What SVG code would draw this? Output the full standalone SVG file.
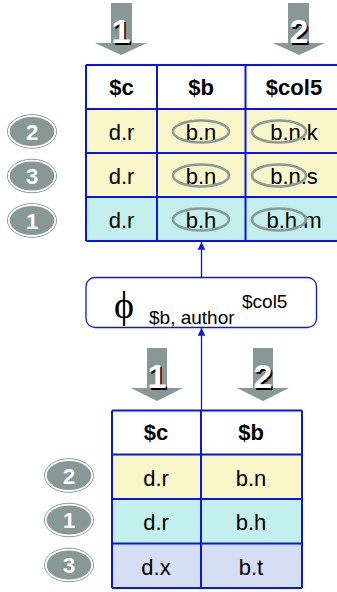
<svg xmlns="http://www.w3.org/2000/svg" width="337" height="592" viewBox="0 0 337 592">
<style>
.grid{fill:none;stroke:#0a14e6;stroke-width:2}
.y{fill:#f9f7c9}.c{fill:#c3f0ec}.l{fill:#d5def3}.w{fill:#ffffff}
.hd{font-family:"Liberation Sans",Arial,sans-serif;font-weight:bold;font-size:22px;text-anchor:middle;fill:#000}
.tx{font-family:"Liberation Sans",Arial,sans-serif;font-size:22px;text-anchor:middle;fill:#000}
.ov{fill:none;stroke:#8a9a98;stroke-width:2.5}
.arr{fill:#879896}
.bn{font-family:"Liberation Sans",Arial,sans-serif;font-weight:bold;font-size:34px;text-anchor:middle}
.badge{fill:#879896;stroke:#ffffff;stroke-width:1.5}
.badgeo{fill:none;stroke:#879896;stroke-width:1}
.bt{font-family:"Liberation Sans",Arial,sans-serif;font-weight:bold;font-size:22px;text-anchor:middle;fill:#ffffff}
.conn{stroke:#0a14e6;stroke-width:1.3;fill:none}
.ph{font-family:"Liberation Sans",Arial,sans-serif;font-size:19px;fill:#000}
</style>
<defs>
<marker id="ah" viewBox="0 0 10 10" refX="10" refY="5" markerWidth="6" markerHeight="6" orient="auto">
<path d="M0,0 L10,5 L0,10 Z" fill="#0a14e6"/>
</marker>
</defs>

<g id="top-arrows">
<path class="arr" d="M111,3 H132 V43 H147 L121,55 L95,43 H111 Z"/>
<text class="bn" x="122.5" y="44.5" fill="#000">1</text>
<text class="bn" x="121" y="43" fill="#fff">1</text>
<path class="arr" d="M288,3 H309 V43 H325 L299,55 L273,43 H288 Z"/>
<text class="bn" x="300.5" y="44.5" fill="#000">2</text>
<text class="bn" x="299" y="43" fill="#fff">2</text>
</g>

<g id="top-table">
<rect class="w" x="86" y="65" width="254" height="44"/>
<rect class="y" x="86" y="109" width="254" height="88"/>
<rect class="c" x="86" y="197" width="254" height="44"/>
<path class="grid" d="M86,65 H340 M86,109 H340 M86,153 H340 M86,197 H340 M86,241 H340 M86,65 V241 M157,65 V241 M245.5,65 V241"/>
<text class="hd" x="121.5" y="95">$c</text>
<text class="hd" x="201" y="95">$b</text>
<text class="hd" x="294" y="95">$col5</text>
<text class="tx" x="121.5" y="139.5">d.r</text>
<text class="tx" x="201" y="139.5">b.n</text>
<text class="tx" x="294" y="139.5">b.n.k</text>
<text class="tx" x="121.5" y="183.5">d.r</text>
<text class="tx" x="201" y="183.5">b.n</text>
<text class="tx" x="294" y="183.5">b.n.s</text>
<text class="tx" x="121.5" y="227.5">d.r</text>
<text class="tx" x="201" y="227.5">b.h</text>
<text class="tx" x="294" y="227.5">b.h.m</text>
<ellipse class="ov" cx="201" cy="131.5" rx="28" ry="11"/>
<ellipse class="ov" cx="279" cy="131.5" rx="27" ry="11"/>
<ellipse class="ov" cx="201" cy="175.5" rx="28" ry="11"/>
<ellipse class="ov" cx="279" cy="175.5" rx="27" ry="11"/>
<ellipse class="ov" cx="201" cy="219.5" rx="28" ry="11"/>
<ellipse class="ov" cx="279" cy="219.5" rx="27" ry="11"/>
</g>

<g id="top-badges">
<ellipse class="badgeo" cx="32" cy="131.5" rx="24.5" ry="16.8"/>
<ellipse class="badge" cx="32" cy="131.5" rx="23" ry="15.3"/>
<text class="bt" x="32" y="139.5">2</text>
<ellipse class="badgeo" cx="32" cy="176" rx="24.5" ry="16.8"/>
<ellipse class="badge" cx="32" cy="176" rx="23" ry="15.3"/>
<text class="bt" x="32" y="184">3</text>
<ellipse class="badgeo" cx="32" cy="220.5" rx="24.5" ry="16.8"/>
<ellipse class="badge" cx="32" cy="220.5" rx="23" ry="15.3"/>
<text class="bt" x="32" y="228.5">1</text>
</g>

<g id="connectors">
<line class="conn" x1="201.5" y1="277" x2="201.5" y2="242" marker-end="url(#ah)"/>
<line class="conn" x1="201.5" y1="410" x2="201.5" y2="328" marker-end="url(#ah)"/>
</g>

<g id="phi-node">
<rect x="86" y="277.5" width="230.5" height="50" rx="9" fill="#fff" stroke="#0a14e6" stroke-width="1.3"/>
<text x="124" y="318" font-family="'Liberation Serif','Times New Roman',serif" font-size="38" text-anchor="middle">ϕ</text>
<text class="ph" x="149" y="323.5">$b, author</text>
<text class="ph" x="242" y="308">$col5</text>
</g>

<g id="bottom-arrows">
<path class="arr" d="M147,348 H167 V388 H183 L157,401 L131,388 H147 Z"/>
<text class="bn" x="158.5" y="389.5" fill="#000">1</text>
<text class="bn" x="157" y="388" fill="#fff">1</text>
<path class="arr" d="M253,348 H273 V388 H289 L263,401 L237,388 H253 Z"/>
<text class="bn" x="264.5" y="389.5" fill="#000">2</text>
<text class="bn" x="263" y="388" fill="#fff">2</text>
</g>

<g id="bottom-table">
<rect class="w" x="112" y="410.5" width="190" height="44"/>
<rect class="y" x="112" y="454.5" width="190" height="44.5"/>
<rect class="c" x="112" y="499" width="190" height="44.5"/>
<rect class="l" x="112" y="543.5" width="190" height="44.5"/>
<path class="grid" d="M112,410.5 H302 M112,454.5 H302 M112,499 H302 M112,543.5 H302 M112,588 H302 M112,410.5 V588 M201,410.5 V588 M302,410.5 V588"/>
<text class="hd" x="156" y="440">$c</text>
<text class="hd" x="251" y="440">$b</text>
<text class="tx" x="156" y="485.5">d.r</text>
<text class="tx" x="251" y="485.5">b.n</text>
<text class="tx" x="156" y="530">d.r</text>
<text class="tx" x="251" y="530">b.h</text>
<text class="tx" x="156" y="574.5">d.x</text>
<text class="tx" x="251" y="574.5">b.t</text>
</g>

<g id="bottom-badges">
<ellipse class="badgeo" cx="69" cy="475.5" rx="24.5" ry="16.8"/>
<ellipse class="badge" cx="69" cy="475.5" rx="23" ry="15.3"/>
<text class="bt" x="69" y="483.5">2</text>
<ellipse class="badgeo" cx="69" cy="520" rx="24.5" ry="16.8"/>
<ellipse class="badge" cx="69" cy="520" rx="23" ry="15.3"/>
<text class="bt" x="69" y="528">1</text>
<ellipse class="badgeo" cx="69" cy="565" rx="24.5" ry="16.8"/>
<ellipse class="badge" cx="69" cy="565" rx="23" ry="15.3"/>
<text class="bt" x="69" y="573">3</text>
</g>
</svg>
